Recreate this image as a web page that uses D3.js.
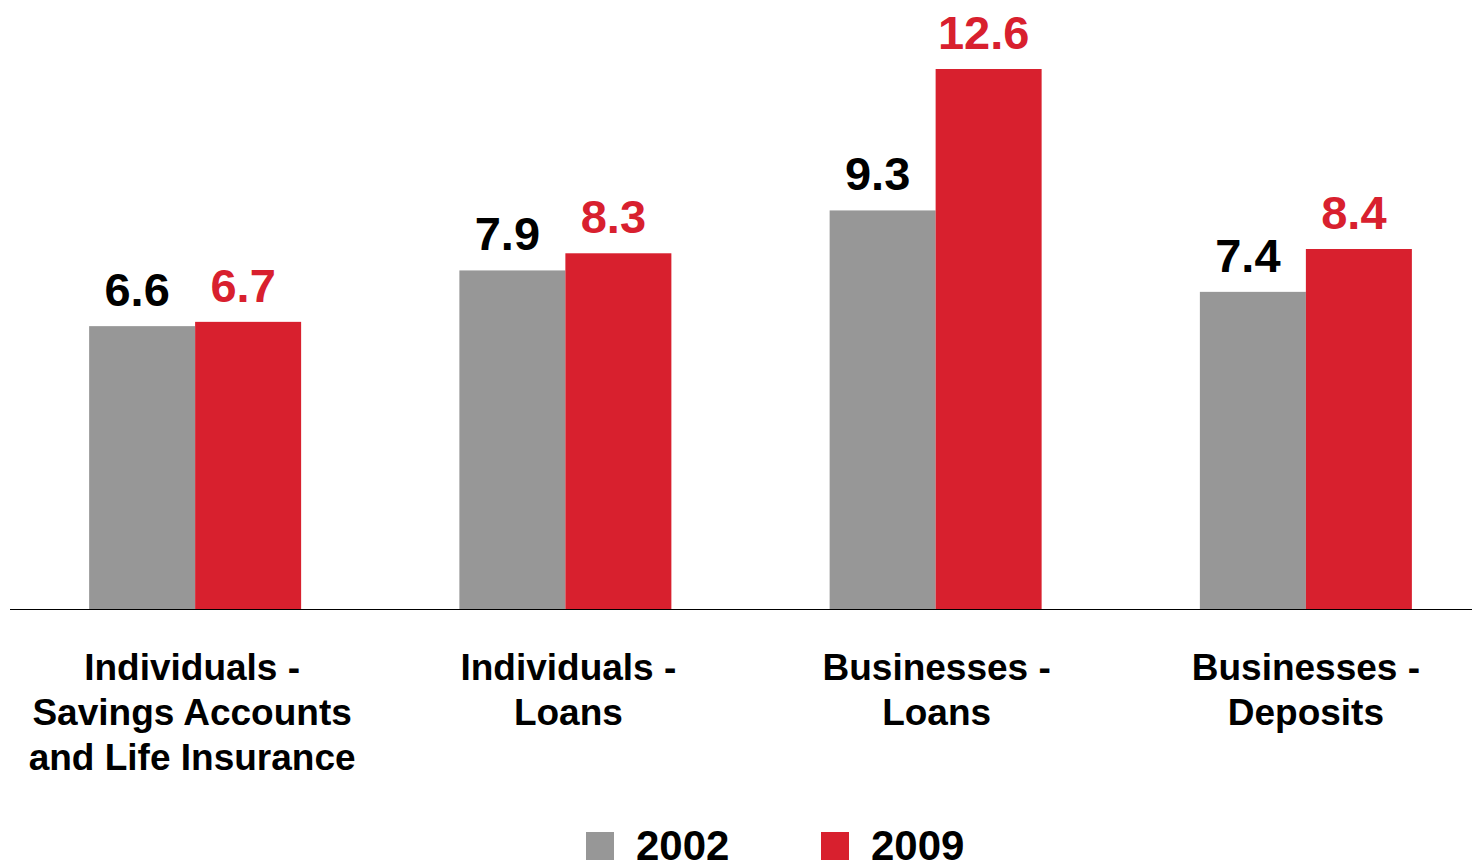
<!DOCTYPE html>
<html>
<head>
<meta charset="utf-8">
<script src="https://cdn.jsdelivr.net/npm/d3@7"></script>
<style>
  html, body { margin: 0; padding: 0; background: #fff; }
  svg { display: block; font-family: "Liberation Sans", Arial, sans-serif; font-weight: bold; }
</style>
</head>
<body>
<svg id="chart" width="1472" height="863"></svg>
<script>
// Category labels (one array per line) and series values
const categories = ["Ind-Savings", "Ind-Loans", "Bus-Loans", "Bus-Deposits"];
const categoryLines = [
  ["Individuals -", "Savings Accounts", "and Life Insurance"],
  ["Individuals -", "Loans"],
  ["Businesses -", "Loans"],
  ["Businesses -", "Deposits"]
];
const seriesNames = ["2002", "2009"];
const values2002 = [6.6, 7.9, 9.3, 7.4];
const values2009 = [6.7, 8.3, 12.6, 8.4];

const colors = { "2002": "#979797", "2009": "#d8202e" };
const labelColors = { "2002": "#000000", "2009": "#d8202e" };

const svg = d3.select("#chart");
const baseY = 609;

const x0 = d3.scaleBand().domain(categories).range([10, 1491]);
const barW = 106;
const x1 = d3.scaleBand().domain(seriesNames)
  .range([x0.bandwidth() / 2 - barW, x0.bandwidth() / 2 + barW]);
const y = d3.scaleLinear().domain([0, 12.6]).range([baseY, 69]);

const data = categories.map((c, i) => ({
  cat: c,
  vals: [
    { s: "2002", v: values2002[i] },
    { s: "2009", v: values2009[i] }
  ]
}));

const groups = svg.selectAll("g.grp").data(data).join("g")
  .attr("class", "grp")
  .attr("transform", d => `translate(${x0(d.cat)},0)`);

groups.selectAll("rect").data(d => d.vals).join("rect")
  .attr("x", d => x1(d.s))
  .attr("y", d => y(d.v))
  .attr("width", x1.bandwidth())
  .attr("height", d => baseY - y(d.v))
  .attr("fill", d => colors[d.s]);

groups.selectAll("text.val").data(d => d.vals).join("text")
  .attr("class", "val")
  .attr("x", d => x1(d.s) + x1.bandwidth() / 2 - 5)
  .attr("y", d => y(d.v) - 20)
  .attr("text-anchor", "middle")
  .attr("font-size", 47)
  .attr("fill", d => labelColors[d.s])
  .text(d => d.v.toFixed(1));

// Baseline
svg.append("line")
  .attr("x1", 10).attr("x2", 1472)
  .attr("y1", baseY + 0.5).attr("y2", baseY + 0.5)
  .attr("stroke", "#000").attr("stroke-width", 1.2);

// Category labels
const labelDx = [-3, 3, 1, 0];
categories.forEach((c, i) => {
  const t = svg.append("text")
    .attr("text-anchor", "middle")
    .attr("font-size", 37)
    .attr("fill", "#000");
  categoryLines[i].forEach((line, j) => {
    t.append("tspan")
      .attr("x", x0(c) + x0.bandwidth() / 2 + labelDx[i])
      .attr("y", 680 + j * 45)
      .text(line);
  });
});

// Legend
const legendX = [586, 821];
seriesNames.forEach((s, i) => {
  svg.append("rect")
    .attr("x", legendX[i]).attr("y", 832)
    .attr("width", 28).attr("height", 28)
    .attr("fill", colors[s]);
  svg.append("text")
    .attr("x", legendX[i] + 50).attr("y", 860)
    .attr("font-size", 42)
    .attr("fill", "#000")
    .text(s);
});
</script>
</body>
</html>
